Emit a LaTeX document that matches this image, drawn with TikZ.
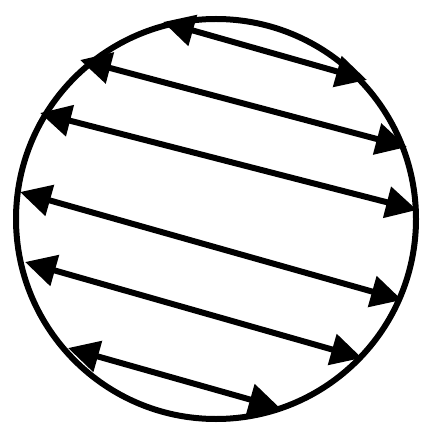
\documentclass[tikz,border=0pt]{standalone}
\usetikzlibrary{arrows.meta}
\begin{document}
\begin{tikzpicture}[x=1pt,y=-1pt,
  rim/.style={line width=6pt,draw=black},
  chord/.style={line width=6pt,{Triangle[length=31pt,width=31pt]}-{Triangle[length=31pt,width=31pt]}}]
\useasboundingbox (0,0) rectangle (420,430);
\node[circle,minimum size=400pt,inner sep=0pt,rim] (c) at (216,219) {};
\coordinate (a1) at (163,22);  \coordinate (b1) at (367,80);
\coordinate (a2) at (80,60);   \coordinate (b2) at (407,147);
\coordinate (a3) at (40,113);  \coordinate (b3) at (417,210);
\coordinate (a4) at (20,192);  \coordinate (b4) at (402,300);
\coordinate (a5) at (25,262);  \coordinate (b5) at (362,358);
\coordinate (a6) at (68,348);  \coordinate (b6) at (280,408);
\foreach \i in {1,...,6} \draw[chord] (a\i) -- (b\i);
\end{tikzpicture}
\end{document}
